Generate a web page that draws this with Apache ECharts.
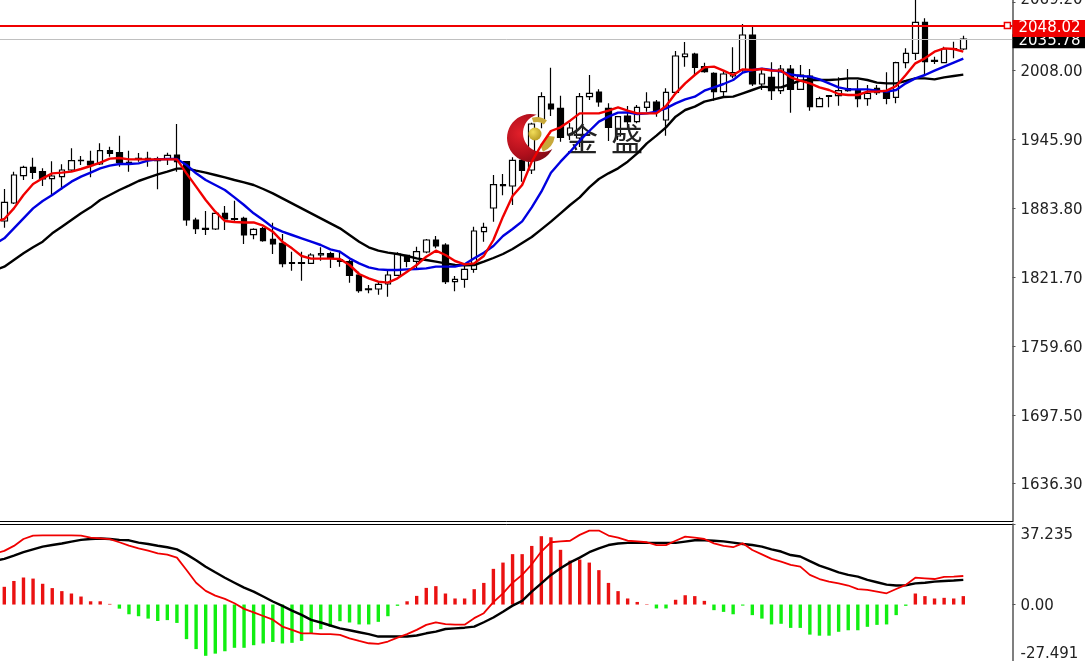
<!DOCTYPE html>
<html><head><meta charset="utf-8">
<style>html,body{margin:0;padding:0;background:#fff;overflow:hidden}#c{width:1085px;height:661px}</style>
<script src="https://cdn.jsdelivr.net/npm/echarts@6/dist/echarts.min.js"></script>
</head><body><div id="c"></div>
<script>
// open, close, low, high
const candles = [
[1872.1,1888.9,1866.1,1900.9],[1888.3,1913.5,1887.4,1916.5],[1912.9,1920.4,1909,1921.9],[1920.4,1915.9,1909.9,1929.1],[1916.5,1909.9,1903.6,1919.5],
[1910.2,1912.6,1895.5,1925.8],[1912,1918,1900,1923.1],[1918,1926.4,1916.5,1937.5],[1926.4,1926.7,1922.5,1930.6],[1925.8,1922.5,1911.4,1935.4],
[1923.4,1935.4,1922.5,1942],[1935.4,1933,1930,1939],[1933.6,1924.9,1921,1948.9],[1924.9,1924,1916.5,1935.4],[1927.6,1928.5,1925.5,1933.3],
[1927,1928.5,1921,1934.5],[1928.2,1926.4,1900.6,1930],[1927.6,1931.2,1922.5,1933.6],[1931.5,1925.5,1916.5,1959.4],[1925.5,1873,1867.9,1925.5],
[1873,1865.2,1860.4,1875.1],[1865.5,1864.6,1859.5,1881.1],[1864.9,1879,1864,1879.3],[1879,1873.9,1864,1885.6],[1874.2,1873.6,1872.4,1890.4],
[1874.4,1859.5,1851.4,1876],[1859.8,1864.6,1855.6,1865.5],[1865.2,1854.4,1853.5,1866.7],[1855.6,1851.4,1842.4,1870.6],[1852,1833.7,1830.4,1860.4],
[1834.6,1834,1827.4,1844.5],[1834.6,1834,1818.4,1844.5],[1834,1841.5,1833.4,1843],[1841.5,1842.7,1836.4,1848.4],[1842.7,1838.5,1829.8,1844.5],
[1837.3,1835.8,1831,1845.4],[1835.5,1823.2,1816.6,1837],[1823.5,1809.4,1807.6,1826.5],[1811,1810.3,1807,1814.5],[1810.9,1815.1,1805.8,1817.2],
[1815.4,1823.5,1804,1827.4],[1823.2,1842.4,1822.6,1843.9],[1841.2,1835.8,1830.4,1841.5],[1835.8,1844.5,1828.6,1849],[1844.2,1855,1843,1855.9],
[1855,1849.6,1847.5,1858.6],[1850.5,1817.5,1815.4,1852],[1817.5,1819.6,1808.8,1822.6],[1819.6,1828.6,1812.1,1832.5],[1828.6,1863.1,1825.6,1867],
[1862.5,1866.4,1853.5,1870.6],[1883.8,1904.8,1871.5,1913.5],[1903.9,1904.8,1895.2,1914.4],[1903.6,1926.7,1886.5,1929.4],[1926.7,1917.7,1907.5,1929.7],
[1918,1959.4,1914.4,1960.6],[1962.4,1984,1955.5,1987.9],[1977.4,1972.9,1966.6,2010.1],[1973.5,1947.4,1943.5,1984.9],[1949.5,1955.8,1945,1960.3],
[1946.8,1984,1938.7,1987.3],[1984,1987,1981,2003.5],[1988.2,1979.2,1975,1990.6],[1973.5,1956.4,1944.1,1978],[1948.6,1966,1945,1966.6],
[1966.6,1961.5,1955.8,1975.6],[1961.5,1974.4,1960,1976.5],[1974.4,1979.2,1970.5,1987.9],[1979.2,1970.5,1966,1981],[1963,1987.9,1948.9,1991.5],
[1987.9,2020.6,1987,2025.1],[2020,2022.4,2011,2033.2],[2022.4,2010.4,2003.5,2023.6],[2011,2006.5,2005.6,2014.6],[2005,1988.5,1980.4,2005.9],
[1988.5,2004.4,1984,2008],[2002.6,2005.6,2000.5,2028.4],[2008,2039.5,2006.5,2049.4],[2039.5,1995.4,1993.6,2048.5],[1995.4,2004.4,1990,2009.5],
[2001.4,1989.4,1981,2014.9],[1989.4,2008.9,1986.4,2012.5],[2008.9,1990.6,1969.6,2012.5],[1990.6,2003.5,1990,2012.5],[2002.6,1975,1971.4,2008.9],
[1975,1982.2,1974.4,1984],[1984.3,1984.9,1974.4,1985.5],[1984.9,1989.4,1975.9,2001.4],[1989.4,1991.2,1988.5,2008.9],[1990,1982.2,1974.4,1999],
[1982.2,1987,1975.9,1994.5],[1991.5,1987.6,1985.5,1994.5],[1987.6,1982.5,1977.1,2005.9],[1983.4,2014.6,1978,2015.5],[2014.6,2023,2009.5,2027.5],
[2023,2050.9,2017,2071],[2050.9,2015.5,2003.5,2054.5],[2015.8,2016.7,2013.4,2020],[2014.6,2026.9,2014,2029],[2026.6,2027.2,2018.5,2033.5],
[2026.9,2035.78,2026,2038.9]
];
// The line arrays start one bar earlier than the candles: the lines run in from the left edge.
const maFast = [1871.2,1873.9,1883.5,1895.5,1905.4,1910.5,1915,1915.6,1916.5,1918.9,1921.6,
1924.6,1928.2,1928.8,1927.6,1927.6,1927.6,1927.6,1927.6,1927.6,1915,
1903,1891,1880.5,1872.1,1871.2,1870.8,1870.9,1867.9,1862.5,1853.5,
1847.5,1840.6,1838.2,1838.2,1838.2,1837.9,1832.5,1824.4,1820.5,1817.5,
1816.6,1820.5,1826.5,1832.5,1840,1845.4,1841.5,1836.1,1833.1,1834,
1840.6,1855,1876,1894.6,1904.5,1925.5,1940.5,1953.1,1956.4,1962.4,
1969,1969,1969,1971.4,1974.4,1971.4,1969,1969,1969,1975.6,
1987,1996,2003.5,2010.4,2011,2007.4,2003.5,2008.6,2008,2008.9,
2007.4,2007.4,2001.4,1998.4,1996,1992.4,1990,1986.4,1985.5,1985.5,
1988.5,1988.5,1989.4,1993.6,2003.5,2014,2018.5,2024.5,2027.5,2026.9,2024.5];
const maMid = [1851.4,1856.5,1865.5,1874.5,1883.5,1890.1,1895.5,1901.5,1907.5,1912,1915.6,
1919.5,1921.9,1923.4,1923.4,1924,1926.4,1927.6,1927.9,1927.9,1922.5,
1915,1909,1904.5,1900,1893.4,1886.5,1879,1873,1866.4,1862.5,
1859.5,1856.5,1853.5,1850.5,1846.6,1844.5,1838.5,1834,1830.4,1828.6,
1828,1828,1828.6,1828.9,1829.5,1831,1831,1831,1833.1,1838.5,
1843.6,1849.6,1858.6,1864.9,1871.8,1884.4,1898.5,1915.6,1925.5,1934.5,
1944.4,1953.1,1961.5,1966,1969.6,1969.9,1968.4,1969,1970.5,1973.5,
1978,1981.6,1984,1989.4,1992.4,1995.4,1999,2005.6,2008,2009.2,
2008,2006.5,2004.1,2002.6,2002,1999.6,1996,1992.4,1990.6,1990.6,
1990.6,1989.4,1988.5,1990,1996,2000.5,2003.5,2007.4,2011,2014.6,2018.2];
const maSlow = [1828,1831,1837,1843,1848.4,1853.5,1861,1867,1873,1879,1884.4,
1891,1895.5,1900,1903.9,1908.1,1911.1,1914.1,1916.5,1919.2,1919.5,
1917.4,1915.6,1913.5,1911.4,1909,1906.9,1904.5,1900.9,1897,1892.5,
1888,1883.5,1879,1874.5,1870,1865.5,1859.5,1853.5,1848.4,1845.4,
1843.6,1842.4,1840.6,1838.5,1837,1835.5,1834,1832.5,1832.2,1832.5,
1835.5,1838.8,1842.4,1846.9,1852.3,1857.7,1864.6,1871.5,1879,1886.5,
1893.4,1902.4,1909.9,1915,1919.5,1925.5,1933,1942,1948.9,1956.4,
1966,1972,1975,1979.5,1981.6,1983.7,1984,1987,1990,1993,
1992.4,1992.4,1995.4,1998.4,1999,1999,1999,1999.6,2000.5,2000.5,
1999,1996.6,1996,1996,1998.1,2000.5,2000.5,1999.6,2001.4,2002.6,2003.8];
const macdHist = [8.2,10.9,12.5,12,9.6,7.6,6.2,5.1,3.7,1.5,
1.5,0.3,-1.9,-4.5,-5.4,-6.5,-7.6,-7.2,-8.5,-16,
-20.6,-23.7,-22.7,-21.6,-20,-20,-18.8,-18,-17.3,-18,
-17.7,-16.8,-13.4,-11.4,-10.3,-7.7,-8.3,-9.2,-9.2,-8,
-5.4,-0.6,1.5,4,7.7,8.5,5.1,2.8,2.8,7.1,
10,16.5,19.4,23.3,23.3,27.1,31.6,31.1,25.3,20.3,
20.8,19.4,15.9,10,6.2,2.8,1.2,0.2,-1.8,-1.8,
2.2,4.3,3.9,1.7,-2.6,-3.4,-4.5,-0.5,-4.9,-6.5,
-9.2,-8.9,-10.8,-10.8,-13.9,-14.4,-14.4,-12.6,-11.9,-11.9,
-10.3,-9.4,-9.2,-4.9,-0.6,5.1,3.9,2.8,3.1,2.8,3.9];
const macdLine = [23.5,24.8,27.1,30.3,31.9,32,32,32,32,31.9,30.9,
30.6,30.2,28.8,27.2,26,24.9,23.7,23.1,21.7,16,
10.1,6.3,4.1,2.6,0.6,-2,-3.6,-5.3,-7,-10.2,
-11.7,-13.3,-13.3,-13.7,-13.7,-14,-15.6,-16.8,-17.9,-18.2,
-17.1,-15.3,-13.7,-11.7,-9.4,-8.2,-9.1,-9.3,-9.3,-6.3,
-4,1.1,5.2,10.1,13.7,18.6,24.5,28.8,29.2,29.5,
32.2,34.2,34.2,31.9,30.9,29.5,29.2,28.8,27.5,27.5,
29.5,31.4,30.9,30.3,28.3,27.1,26.5,28.3,25.2,23.2,
21.1,19.8,18.3,17.5,13.7,11.8,10.6,9.8,8.8,7.1,
6.8,6,5.2,7.2,9.1,12.4,12.1,11.8,12.8,12.9,13.2];
const macdSignal = [20.2,21.1,22.6,24.2,25.5,26.8,27.5,28.2,29.1,29.9,30.3,
30.5,30.3,29.9,29.7,28.6,28,27.2,26.5,25.5,23.2,
20.5,17.5,14.9,12.4,10.1,7.8,6,3.7,1.4,-0.6,
-2.8,-4.8,-7.1,-8.3,-9.7,-11,-11.9,-12.8,-13.7,-14.8,
-14.8,-14.8,-14.8,-14.3,-13.3,-12.5,-11.3,-11,-10.7,-10.2,
-8.2,-6,-3.3,-0.5,1.7,6,9.8,13.7,16.8,19.5,
21.7,24.2,26,27.5,28.2,28.5,28.5,28.5,28.5,28.5,
28.5,29.1,29.7,29.7,29.5,29.2,28.6,28,27.5,26.8,
25.5,24.5,22.9,22.2,20.1,18,16.5,14.9,13.7,12.9,
11.4,10.3,9.2,8.8,8.9,9.8,10.1,10.6,10.9,11.1,11.4];
const priceTicks = [1636.30,1697.50,1759.60,1821.70,1883.80,1945.90,2008.00,2069.20];
const macdTicks = [-27.491,0,37.235];
const alertPrice = 2048.02;
const lastPrice = 2035.78;
const watermarkChars = ['金','盛'];

const font = '"DejaVu Sans"';
const pairs = a => a.map((v,i)=>[i,v]);
const linePairs = a => a.map((v,i)=>[i-1,v]);
const line = (a,color,idx,w) => ({type:'line',xAxisIndex:idx,yAxisIndex:idx,data:linePairs(a),showSymbol:false,silent:true,
  lineStyle:{color,width:w},itemStyle:{color},z:5,animation:false});
const priceLabel = (txt,bg,off,h) => ({show:true,position:'end',distance:0,offset:off,formatter:txt,color:'#fff',backgroundColor:bg,
  fontFamily:font,fontSize:15,padding:[1,0,1,6],lineHeight:h,width:67,height:h,align:'left'});

// logo crescent outline: outer arc then inner arc
const crescent = [];
for (let d = -76; d >= -333; d -= 8) crescent.push([531+24*Math.cos(d*Math.PI/180),138+24*Math.sin(d*Math.PI/180)]);
for (let d = 57; d <= 254; d += 8) crescent.push([542+19*Math.cos(d*Math.PI/180),133+19*Math.sin(d*Math.PI/180)]);

const chart = echarts.init(document.getElementById('c'),null,{renderer:'canvas',width:1085,height:661});
chart.setOption({
  animation:false,
  backgroundColor:'#fff',
  graphic:{elements:[
    {type:'polygon',z:4,shape:{points:crescent},style:{fill:{type:'radial',x:0.3,y:0.4,r:0.8,colorStops:[{offset:0,color:'#e2202a'},{offset:0.6,color:'#b00f1c'},{offset:1,color:'#7c0a14'}]}}},
    {type:'sector',z:4,shape:{cx:537,cy:133,r:16,r0:11,startAngle:-1.9,endAngle:-0.9},style:{fill:'#c8a93a'}},
    {type:'sector',z:4,shape:{cx:536,cy:134,r:19,r0:11,startAngle:0.15,endAngle:1.2},style:{fill:'#c8a93a'}},
    {type:'circle',z:4,shape:{cx:535,cy:134,r:6.5},style:{fill:{type:'radial',x:0.35,y:0.35,r:0.8,colorStops:[{offset:0,color:'#f2dd5a'},{offset:1,color:'#b0921c'}]}}},
    {type:'text',z:4,x:582,y:139,style:{text:watermarkChars[0],font:'32px "Noto Sans CJK SC"',fill:'#222',align:'center',verticalAlign:'middle'}},
    {type:'text',z:4,x:627,y:139,style:{text:watermarkChars[1],font:'32px "Noto Sans CJK SC"',fill:'#222',align:'center',verticalAlign:'middle'}}
  ]},
  grid:[
    {left:0,right:72.5,top:0,height:521.5,outerBoundsMode:'none'},
    {left:0,right:72.5,top:524,height:140,outerBoundsMode:'none'}
  ],
  xAxis:[
    {type:'value',gridIndex:0,min:-0.448,max:105.13,axisLine:{show:true,onZero:false,lineStyle:{color:'#000',width:1}},axisTick:{show:false},axisLabel:{show:false},splitLine:{show:false}},
    {type:'value',gridIndex:1,position:'top',min:-0.448,max:105.13,axisLine:{show:true,onZero:false,lineStyle:{color:'#000',width:1}},axisTick:{show:false},axisLabel:{show:false},splitLine:{show:false}}
  ],
  yAxis:[
    {type:'value',gridIndex:0,position:'right',min:1601.65,max:2071,splitLine:{show:false},
     axisLine:{show:true,onZero:false,lineStyle:{color:'#555',width:1.5}},
     axisTick:{show:true,length:3,customValues:priceTicks,lineStyle:{color:'#555'}},
     axisLabel:{show:true,margin:8,customValues:priceTicks,formatter:v=>v.toFixed(2),color:'#222',fontFamily:font,fontSize:15,
       verticalAlign:'top',lineHeight:4,verticalAlignMaxLabel:'bottom'}},
    {type:'value',gridIndex:1,position:'right',min:-27.491,max:37.235,splitLine:{show:false},
     axisLine:{show:true,onZero:false,lineStyle:{color:'#555',width:1.5}},
     axisTick:{show:true,length:3,customValues:macdTicks,lineStyle:{color:'#555'}},
     axisLabel:{show:true,margin:8,customValues:macdTicks,showMinLabel:true,showMaxLabel:true,verticalAlign:'top',verticalAlignMaxLabel:'top',verticalAlignMinLabel:'bottom',
       formatter:v=>v===0?'{z|0.00}':(v>0?'{t|'+v+'}':'{b|'+v+'}'),color:'#222',fontFamily:font,fontSize:15,
       rich:{t:{lineHeight:22,fontFamily:font,fontSize:15,color:'#222'},z:{lineHeight:4,fontFamily:font,fontSize:15,color:'#222'},b:{lineHeight:20,fontFamily:font,fontSize:15,color:'#222'}}}}
  ],
  series:[
    {type:'candlestick',xAxisIndex:0,yAxisIndex:0,barWidth:6,z:3,silent:true,
     data:candles.map((c,i)=>[i,c[0],c[1],c[2],c[3]]),
     itemStyle:{color:'#fff',color0:'#000',borderColor:'#000',borderColor0:'#000',borderWidth:1.2}},
    line(maSlow,'#000',0,2.4),
    line(maMid,'#0000e0',0,2.4),
    line(maFast,'#f00000',0,2.4),
    {type:'line',xAxisIndex:0,yAxisIndex:0,data:[],showSymbol:false,z:6,silent:true,
     markLine:{silent:true,symbol:'none',animation:false,
       data:[{yAxis:lastPrice,lineStyle:{color:'#c0c0c0',width:1,type:'solid'},label:priceLabel(lastPrice.toFixed(2),'#000',[0,2],12)}]}},
    {type:'line',xAxisIndex:0,yAxisIndex:0,data:[],showSymbol:false,z:7,silent:true,
     markLine:{silent:true,symbol:'none',animation:false,
       data:[{yAxis:alertPrice,lineStyle:{color:'#f00000',width:2,type:'solid'},label:priceLabel(alertPrice.toFixed(2),'#f00000',[0,3],15)}]},
     markPoint:{silent:true,animation:false,symbol:'rect',symbolSize:[6,6],itemStyle:{color:'#fff',borderColor:'#f00000',borderWidth:1.5},label:{show:false},
       data:[{coord:[104.6,alertPrice]}]}},
    {type:'bar',xAxisIndex:1,yAxisIndex:1,barWidth:3.4,z:3,silent:true,
     data:pairs(macdHist),
     itemStyle:{color:p=>p.value[1]>=0?'#ea1111':'#11ee11'}},
    line(macdSignal,'#000',1,2.4),
    line(macdLine,'#f00000',1,1.8)
  ]
});
</script></body></html>
